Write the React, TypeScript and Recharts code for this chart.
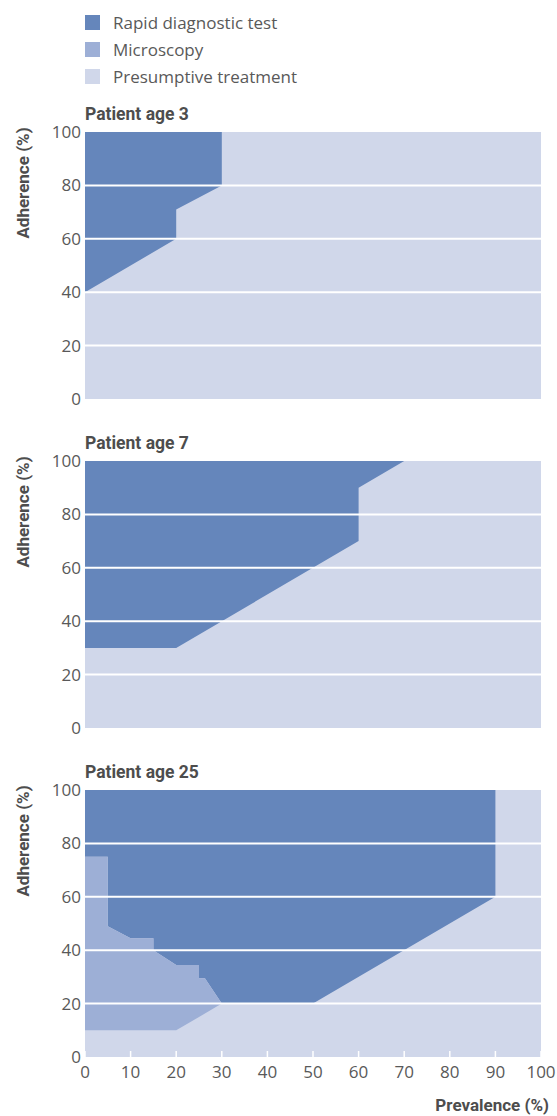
import React from 'react';
import { ComposedChart, Area, XAxis, YAxis, CartesianGrid, ReferenceLine } from 'recharts';

// ---------- data ----------
const seriesNames = ['Rapid diagnostic test', 'Microscopy', 'Presumptive treatment'];
const seriesColors = ['#6586bb', '#9dafd6', '#d0d7ea'];
const panelTitles = ['Patient age 3', 'Patient age 7', 'Patient age 25'];
const prevalenceTicks = [0, 10, 20, 30, 40, 50, 60, 70, 80, 90, 100];
const adherenceTicks = [0, 20, 40, 60, 80, 100];
const gridAdherence = [20, 40, 60, 80];

// Age 3: rapid diagnostic test region (lower / upper adherence boundary by prevalence)
const age3Prevalence = [0, 20, 20, 30, 30];
const age3RdtLow = [40, 60, 71, 80, 100];
const age3RdtHigh = [100, 100, 100, 100, 100];

// Age 7
const age7Prevalence = [0, 20, 60, 60, 70];
const age7RdtLow = [30, 30, 70, 90, 100];
const age7RdtHigh = [100, 100, 100, 100, 100];

// Age 25
const age25Prevalence = [0, 5, 5, 10, 15, 15, 20, 25, 25, 26.3, 30, 50, 90, 90];
const age25RdtLow = [75, 75, 49, 44.5, 44.5, 40, 34.5, 34.5, 29.5, 29.5, 20, 20, 60, 100];
const age25RdtHigh = [100, 100, 100, 100, 100, 100, 100, 100, 100, 100, 100, 100, 100, 100];
const age25MicLow = [10, 10, 10, 10, 10, 10, 10, 15, 15, 16.3, 20, null, null, null];
const age25MicHigh = [75, 75, 49, 44.5, 44.5, 40, 34.5, 34.5, 29.5, 29.5, 20, null, null, null];

type Row = { x: number; rdt: [number, number]; mic: [number, number] | null };

function buildRows(
  xs: number[],
  rLo: number[],
  rHi: number[],
  mLo?: (number | null)[],
  mHi?: (number | null)[]
): Row[] {
  return xs.map((x, i) => ({
    x,
    rdt: [rLo[i], rHi[i]],
    mic:
      mLo && mHi && mLo[i] != null && mHi[i] != null
        ? [mLo[i] as number, mHi[i] as number]
        : null,
  }));
}

const panelData: Row[][] = [
  buildRows(age3Prevalence, age3RdtLow, age3RdtHigh),
  buildRows(age7Prevalence, age7RdtLow, age7RdtHigh),
  buildRows(age25Prevalence, age25RdtLow, age25RdtHigh, age25MicLow, age25MicHigh),
];
const panelHasMicroscopy = [false, false, true];

// ---------- layout ----------
const W = 557;
const PLOT_TOPS = [132, 461, 790];
const PLOT_H = 267;
const TOP_PAD = 16;
const TEXT = '#595959';
const SANS = '"Open Sans", "Noto Sans", sans-serif';
const BOLD = 'Roboto, "Noto Sans", sans-serif';

function Panel({ index }: { index: number }) {
  const last = index === 2;
  const axisH = last ? 30 : 0;
  const bottomPad = last ? 0 : 12;
  const H = TOP_PAD + PLOT_H + axisH + bottomPad;
  return (
    <div style={{ position: 'absolute', left: 0, top: PLOT_TOPS[index] - TOP_PAD }}>
      <ComposedChart
        width={W}
        height={H}
        data={panelData[index]}
        margin={{ top: TOP_PAD, right: 16, bottom: bottomPad, left: 0 }}
      >
        <CartesianGrid horizontal={false} vertical={false} fill={seriesColors[2]} fillOpacity={1} stroke="none" />
        <XAxis
          dataKey="x"
          type="number"
          domain={[0, 100]}
          ticks={prevalenceTicks}
          interval={0}
          allowDataOverflow
          axisLine={false}
          tickLine={{ stroke: '#ffffff', strokeWidth: 1.5 }}
          tickSize={-6}
          tickMargin={15}
          height={axisH}
          tick={last ? { fill: TEXT, fontSize: 17, fontFamily: SANS } : false}
        />
        <YAxis
          type="number"
          domain={[0, 100]}
          ticks={adherenceTicks}
          interval={0}
          allowDataOverflow
          axisLine={false}
          tickLine={false}
          tickSize={0}
          tickMargin={4}
          width={85}
          tick={{ fill: TEXT, fontSize: 17, fontFamily: SANS }}
        />
        <Area
          dataKey="rdt"
          type="linear"
          stroke="none"
          fill={seriesColors[0]}
          fillOpacity={1}
          dot={false}
          activeDot={false}
          isAnimationActive={false}
        />
        {panelHasMicroscopy[index] && (
          <Area
            dataKey="mic"
            type="linear"
            stroke="none"
            fill={seriesColors[1]}
            fillOpacity={1}
            dot={false}
            activeDot={false}
            isAnimationActive={false}
          />
        )}
        {gridAdherence.map((v) => (
          <ReferenceLine key={v} y={v} stroke="#ffffff" strokeWidth={2} ifOverflow="extendDomain" />
        ))}
      </ComposedChart>
    </div>
  );
}

export default function App() {
  return (
    <div style={{ position: 'relative', width: W, height: 1116, overflow: 'hidden', background: '#fff' }}>
      <style>{'body{margin:0}'}</style>
      {/* legend */}
      {seriesNames.map((name, i) => (
        <div
          key={name}
          style={{
            position: 'absolute',
            left: 85,
            top: 15 + i * 27,
            height: 15,
            display: 'flex',
            alignItems: 'center',
          }}
        >
          <div style={{ width: 15, height: 15, background: seriesColors[i] }} />
          <span
            style={{
              marginLeft: 13,
              fontFamily: SANS,
              fontSize: 17,
              color: TEXT,
              lineHeight: '15px',
              whiteSpace: 'nowrap',
            }}
          >
            {name}
          </span>
        </div>
      ))}
      {[0, 1, 2].map((i) => (
        <Panel key={i} index={i} />
      ))}
      <svg
        width={W}
        height={1116}
        style={{ position: 'absolute', left: 0, top: 0, pointerEvents: 'none' }}
      >
        {panelTitles.map((t, i) => (
          <g key={t}>
            <text
              x={85}
              y={PLOT_TOPS[i] - 12}
              fontFamily={BOLD}
              fontWeight={700}
              fontSize={17.5}
              fill="#4d4d4d"
            >
              {t}
            </text>
            <text
              x={29}
              y={PLOT_TOPS[i] + 51}
              transform={`rotate(-90 29 ${PLOT_TOPS[i] + 51})`}
              textAnchor="middle"
              fontFamily={BOLD}
              fontWeight={700}
              fontSize={17}
              fill="#4d4d4d"
            >
              Adherence (%)
            </text>
          </g>
        ))}
        <text
          x={549}
          y={1111}
          textAnchor="end"
          fontFamily={BOLD}
          fontWeight={700}
          fontSize={17}
          fill="#4d4d4d"
        >
          Prevalence (%)
        </text>
      </svg>
    </div>
  );
}
